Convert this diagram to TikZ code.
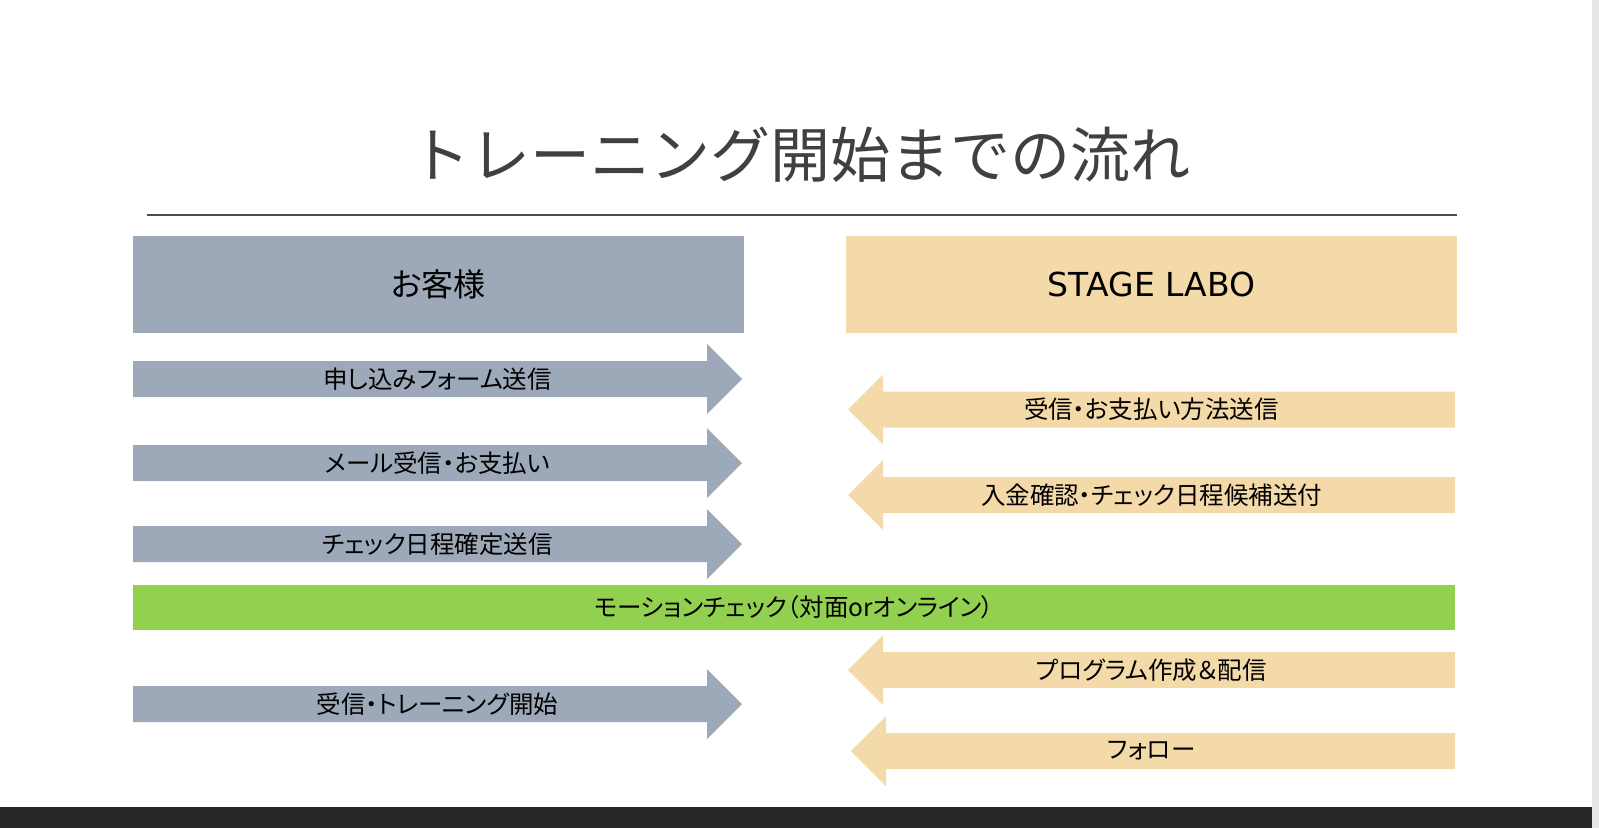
\documentclass[tikz,border=0pt]{standalone}
\usepackage{fontspec}
\newfontfamily\jp{Noto Sans CJK JP}[RawFeature=+palt]
\newfontfamily\jptitle{Noto Sans CJK JP}
\newfontfamily\latin{DejaVu Sans}
\definecolor{guest}{HTML}{9DA9B9}
\definecolor{labo}{HTML}{F4D9A9}
\definecolor{motion}{HTML}{92D050}
\begin{document}
\begin{tikzpicture}[x=1pt,y=-1pt,every node/.style={inner sep=0},
	headbox/.style={minimum width=611pt,minimum height=97pt},
	steptext/.style={font=\jp\fontsize{24.5}{24.5}\selectfont}]
\useasboundingbox (0,0) rectangle (1599,828);
% title and rule
\node[font=\jptitle\fontsize{60}{60}\selectfont,text=black!75] (title) at (800,155) {トレーニング開始までの流れ};
\draw[black!70,line width=1.5pt] (147,215) -- (1457,215);
% headers
\node[headbox,fill=guest,font=\jp\fontsize{32}{32}\selectfont] (guest) at (438.5,284.5) {お客様};
\node[headbox,fill=labo,font=\latin\fontsize{33}{33}\selectfont] (labo) at (1151.5,284.5) {STAGE LABO};
% guest arrows
\foreach \y/\txt [count=\i] in {379/申し込みフォーム送信,463/メール受信・お支払い,544/チェック日程確定送信,704/受信・トレーニング開始}{
	\fill[guest] (133,\y-18) -- (707,\y-18) -- (707,\y-35) -- (742,\y) -- (707,\y+35) -- (707,\y+18) -- (133,\y+18) -- cycle;
	\node[steptext] (g\i) at (437.5,\y) {\txt};
}
% labo arrows
\foreach \y/\tip/\txt [count=\i] in {409.5/848/受信・お支払い方法送信,495/848/入金確認・チェック日程候補送付,670/848/プログラム作成＆配信,751/851/フォロー}{
	\fill[labo] (1455,\y-18) -- (\tip+35,\y-18) -- (\tip+35,\y-35) -- (\tip,\y) -- (\tip+35,\y+35) -- (\tip+35,\y+18) -- (1455,\y+18) -- cycle;
	\node[steptext] (l\i) at (1151.5,\y) {\txt};
}
% motion check
\node[steptext,fill=motion,minimum width=1322pt,minimum height=45pt] (check) at (794,607.5) {モーションチェック（対面orオンライン）};
% frame
\fill[black!85] (0,807) rectangle (1592,828);
\fill[gray!20] (1592,0) rectangle (1599,828);
\end{tikzpicture}
\end{document}
